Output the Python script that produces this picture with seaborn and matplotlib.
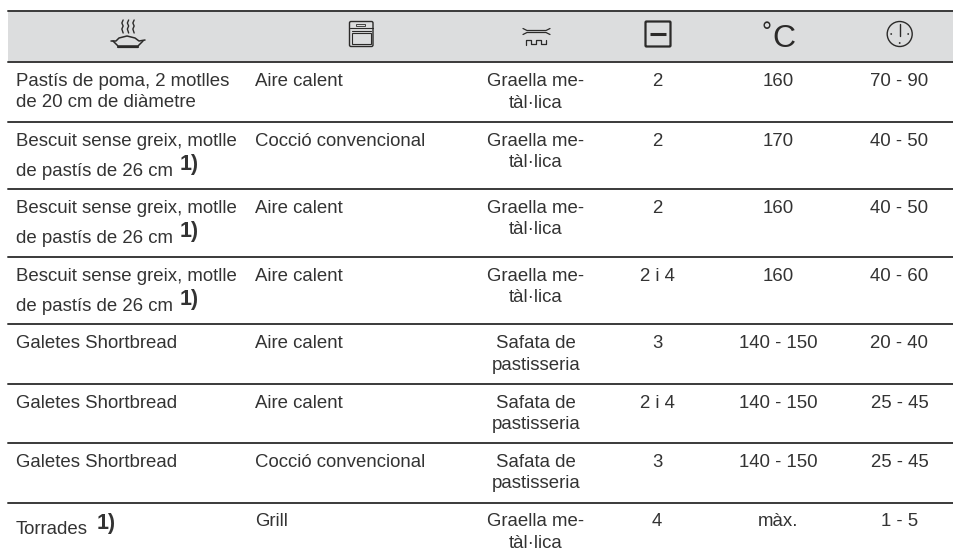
import matplotlib
matplotlib.use("Agg")
import matplotlib.pyplot as plt
from matplotlib.patches import Circle, FancyBboxPatch, Rectangle
import numpy as np
import pandas as pd
import seaborn as sns

sns.set_theme(style="white")
plt.rcParams['font.family'] = ['Liberation Sans', 'DejaVu Sans']

dishes = [
    "Pastís de poma, 2 motlles\nde 20 cm de diàmetre",
    "Bescuit sense greix, motlle\nde pastís de 26 cm",
    "Bescuit sense greix, motlle\nde pastís de 26 cm",
    "Bescuit sense greix, motlle\nde pastís de 26 cm",
    "Galetes Shortbread",
    "Galetes Shortbread",
    "Galetes Shortbread",
    "Torrades",
]
modes = ["Aire calent", "Cocció convencional", "Aire calent", "Aire calent",
         "Aire calent", "Aire calent", "Cocció convencional", "Grill"]
accessories = ["Graella me-\ntàl·lica", "Graella me-\ntàl·lica", "Graella me-\ntàl·lica",
               "Graella me-\ntàl·lica", "Safata de\npastisseria", "Safata de\npastisseria",
               "Safata de\npastisseria", "Graella me-\ntàl·lica"]
levels = ["2", "2", "2", "2 i 4", "3", "2 i 4", "3", "4"]
temps = ["160", "170", "160", "160", "140 - 150", "140 - 150", "140 - 150", "màx."]
times = ["70 - 90", "40 - 50", "40 - 50", "40 - 60", "20 - 40", "25 - 45", "25 - 45", "1 - 5"]
footnote = [False, True, True, True, False, False, False, True]

rules = [11, 62, 121.5, 189, 257, 324, 383.5, 443, 502.5]
text_color = "#333333"
rule_color = "#3a3a3a"
fs = 13.4

fig = plt.figure(figsize=(9.54, 5.57), dpi=100)
ax = fig.add_axes([0, 0, 1, 1])

# header band
ax.add_patch(Rectangle((8, 11), 946, 51, color="#dcddde", lw=0, zorder=0))

# rules between the rows
for y in rules:
    rule = pd.DataFrame({"x": [8, 954], "y": [y, y]})
    sns.lineplot(data=rule, x="x", y="y", ax=ax, color=rule_color, lw=1.4,
                 estimator=None, sort=False)
ax.set_xlim(0, 954)
ax.set_ylim(557, 0)
ax.axis("off")


def put_lines(x, y, label, gap, ha="left"):
    for n, line in enumerate(label.split("\n")):
        ax.text(x, y + n * gap, line, fontsize=fs, color=text_color, va="baseline", ha=ha)


for i in range(8):
    top = rules[i + 1]
    base = top + 24
    # the Bescuit rows have a wider line gap, the last row sits lower
    gap = 21 if i == 0 else 30
    put_lines(16, base + 7 if i == 7 else base, dishes[i], gap)
    put_lines(255, base, modes[i], 21)
    put_lines(536, base, accessories[i], 21.5, ha="center")
    put_lines(657, base, levels[i], 21, ha="center")
    put_lines(778, base, temps[i], 21, ha="center")
    put_lines(899.5, base, times[i], 21, ha="center")
    if footnote[i]:
        x = 97 if i == 7 else 180
        y = top + 26.5 if i == 7 else top + 48.5
        ax.text(x, y, "1)", fontsize=15.5, fontweight="bold", color=text_color, va="baseline")

# header icons
ic = "#2b2a29"
# dish with steam
for sx in [122.5, 128, 133.5]:
    yy = np.array([20, 23, 26, 29, 33])
    ax.plot(sx + np.array([0.8, -0.8, 0.8, -0.8, 0.8]) * 0.8, yy, color=ic, lw=1.0)
ax.plot([111, 116, 119, 127, 135, 139, 145], [41, 41, 38, 36, 38, 41, 40], color=ic, lw=1.1)
ax.plot([113, 118, 138, 143], [41, 46, 46, 41], color=ic, lw=1.1)
ax.plot([118, 138], [46.5, 46.5], color=ic, lw=1.6)

# oven
ax.add_patch(FancyBboxPatch((349.5, 21.5), 23.5, 25, boxstyle="round,pad=0,rounding_size=1.5",
                            fc="none", ec=ic, lw=1.0))
ax.plot([350, 373], [28, 28], color=ic, lw=0.8)
ax.plot([352, 371], [31, 31], color=ic, lw=0.8)
ax.add_patch(Rectangle((352, 33), 19, 11, fc="none", ec=ic, lw=0.8))
ax.add_patch(Rectangle((356, 23.5), 9, 2, fc="none", ec=ic, lw=0.6))

# shelf and tray
ax.plot([523, 527, 546, 550], [28.5, 30.5, 30.5, 28.5], color=ic, lw=0.9)
ax.plot([523, 527, 546, 550], [34.5, 32.5, 32.5, 34.5], color=ic, lw=0.9)
ax.plot([526, 526, 531, 531, 536, 536, 541, 541, 546, 546],
        [45, 40, 40, 44, 44, 40, 40, 44, 44, 40], color=ic, lw=0.9)

# shelf level
ax.add_patch(FancyBboxPatch((645.5, 21.5), 25, 25, boxstyle="round,pad=0,rounding_size=1",
                            fc="none", ec=ic, lw=1.6))
ax.plot([650.5, 666.5], [34, 34], color=ic, lw=2.2, solid_capstyle="butt")

# degrees
ax.text(783.5, 47, "C", fontsize=23, color=ic, ha="center", va="baseline")
ax.text(766.5, 40, "°", fontsize=18, color=ic, ha="center", va="baseline")

# clock
ax.add_patch(Circle((899.7, 34), 12.5, fc="none", ec=ic, lw=1.0))
ax.plot([899.7, 899.7], [24, 36], color=ic, lw=1.0)
for dx, dy in [(-8.5, 0), (8.5, 0), (0, 9)]:
    ax.add_patch(Circle((899.7 + dx, 34 + dy), 0.9, color=ic, lw=0))

fig.savefig("out.png", dpi=100)
